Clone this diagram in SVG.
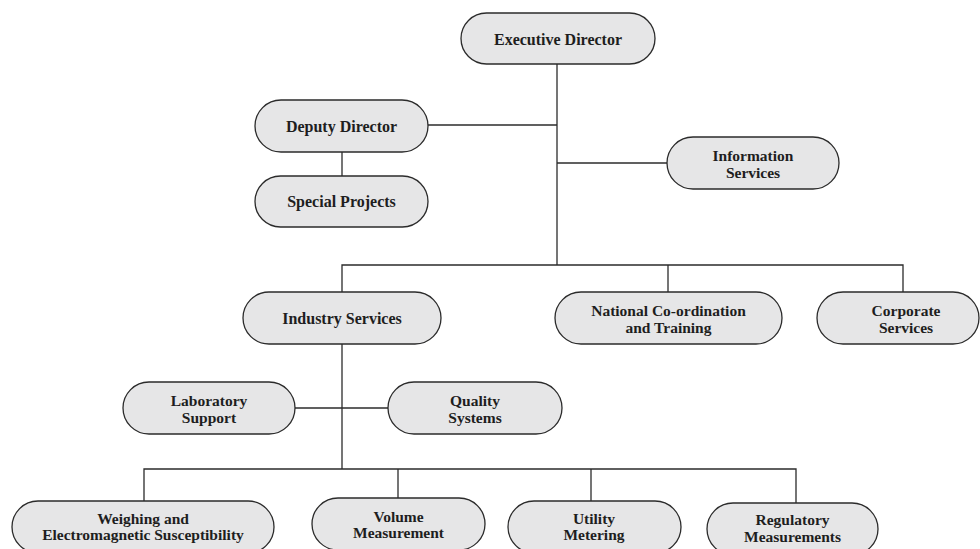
<svg xmlns="http://www.w3.org/2000/svg" width="980" height="549" viewBox="0 0 980 549">
<style>
.box{fill:#e6e6e7;stroke:#2b2b2b;stroke-width:1.3}
.lbl{font-family:"Liberation Serif","Times New Roman",serif;font-weight:bold;font-size:16px;fill:#1e1e1e;text-anchor:middle}
.sm{font-size:15.5px}
.ln{stroke:#2b2b2b;stroke-width:1.3;fill:none}
</style>
<rect width="980" height="549" fill="#ffffff"/>
<g id="connectors">
<path class="ln" d="M557 64V265"/>
<path class="ln" d="M428 125H557"/>
<path class="ln" d="M557 163H667"/>
<path class="ln" d="M342 152V176"/>
<path class="ln" d="M342 292V265H903V292"/>
<path class="ln" d="M668 265V292"/>
<path class="ln" d="M342 344V469"/>
<path class="ln" d="M295 408H388"/>
<path class="ln" d="M144 501V469H796V503"/>
<path class="ln" d="M398 469V498"/>
<path class="ln" d="M591 469V501"/>
</g>
<g id="executive-director">
<rect class="box" x="461" y="13" width="194" height="51" rx="25.5"/>
<text class="lbl" x="558" y="44.5">Executive Director</text>
</g>
<g id="deputy-director">
<rect class="box" x="255" y="100" width="173" height="52" rx="26"/>
<text class="lbl" x="341.5" y="131.5">Deputy Director</text>
</g>
<g id="special-projects">
<rect class="box" x="255" y="176" width="173" height="51" rx="25.5"/>
<text class="lbl" x="341.5" y="207">Special Projects</text>
</g>
<g id="information-services">
<rect class="box" x="667" y="137" width="172" height="52" rx="26"/>
<text class="lbl sm" x="753" y="161">Information</text>
<text class="lbl sm" x="753" y="177.5">Services</text>
</g>
<g id="industry-services">
<rect class="box" x="243" y="292" width="198" height="52" rx="26"/>
<text class="lbl" x="342" y="324">Industry Services</text>
</g>
<g id="national-coordination">
<rect class="box" x="555" y="292" width="227" height="52" rx="26"/>
<text class="lbl sm" x="668.5" y="316">National Co-ordination</text>
<text class="lbl sm" x="668.5" y="332.5">and Training</text>
</g>
<g id="corporate-services">
<rect class="box" x="817" y="292" width="162" height="52" rx="26"/>
<text class="lbl sm" x="906" y="316">Corporate</text>
<text class="lbl sm" x="906" y="332.5">Services</text>
</g>
<g id="laboratory-support">
<rect class="box" x="123" y="382" width="172" height="52" rx="26"/>
<text class="lbl sm" x="209" y="406">Laboratory</text>
<text class="lbl sm" x="209" y="422.5">Support</text>
</g>
<g id="quality-systems">
<rect class="box" x="388" y="382" width="174" height="52" rx="26"/>
<text class="lbl sm" x="475" y="406">Quality</text>
<text class="lbl sm" x="475" y="422.5">Systems</text>
</g>
<g id="weighing">
<rect class="box" x="12" y="501" width="262" height="52" rx="26"/>
<text class="lbl sm" x="143" y="523.5">Weighing and</text>
<text class="lbl sm" x="143" y="540">Electromagnetic Susceptibility</text>
</g>
<g id="volume-measurement">
<rect class="box" x="312" y="498" width="173" height="52" rx="26"/>
<text class="lbl sm" x="398.5" y="521.5">Volume</text>
<text class="lbl sm" x="398.5" y="538">Measurement</text>
</g>
<g id="utility-metering">
<rect class="box" x="508" y="501" width="173" height="52" rx="26"/>
<text class="lbl sm" x="594" y="523.5">Utility</text>
<text class="lbl sm" x="594" y="540">Metering</text>
</g>
<g id="regulatory-measurements">
<rect class="box" x="707" y="503" width="171" height="52" rx="26"/>
<text class="lbl sm" x="792.5" y="525">Regulatory</text>
<text class="lbl sm" x="792.5" y="541.5">Measurements</text>
</g>
</svg>
